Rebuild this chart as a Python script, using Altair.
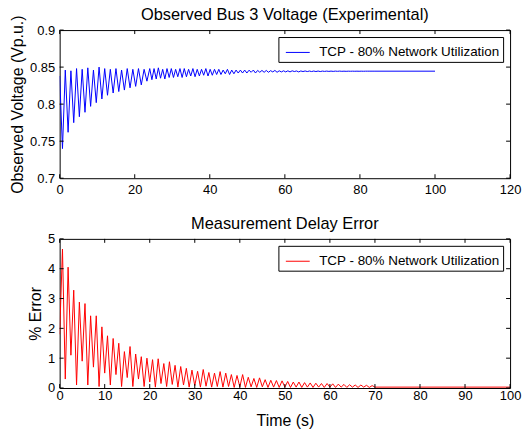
import altair as alt
import pandas as pd

LABEL = "TCP - 80% Network Utilization"

# ---- Observed Bus 3 Voltage ----
volt_period_a = 1.5
volt_peaks_a = [0.838, 0.846, 0.845, 0.848, 0.847, 0.849, 0.846, 0.850,
                0.848, 0.847, 0.848, 0.846, 0.848, 0.847, 0.848, 0.847]
volt_troughs_a = [0.740, 0.762, 0.775, 0.783, 0.789, 0.797, 0.802, 0.807,
                  0.812, 0.815, 0.817, 0.819, 0.822, 0.824, 0.826, 0.831]
volt_start_b = 24.0
volt_period_b = 1.15
volt_peaks_b = [0.848, 0.848, 0.849, 0.847, 0.848, 0.848, 0.847, 0.848, 0.848, 0.847,
                0.848, 0.847, 0.847, 0.848, 0.847, 0.847, 0.847, 0.846, 0.847, 0.846,
                0.846, 0.846, 0.846, 0.8458, 0.846, 0.8455, 0.8455, 0.8455, 0.8452, 0.8455,
                0.845, 0.845, 0.845, 0.845, 0.8448, 0.8448, 0.8448, 0.8447, 0.8447, 0.8447,
                0.8446, 0.8446, 0.8446, 0.8446, 0.8446, 0.8445, 0.8445, 0.8445, 0.8445, 0.8445,
                0.8445, 0.8445]
volt_troughs_b = [0.833, 0.834, 0.835, 0.834, 0.836, 0.836, 0.837, 0.836, 0.837, 0.838,
                  0.837, 0.838, 0.839, 0.838, 0.839, 0.840, 0.840, 0.841, 0.840, 0.841,
                  0.842, 0.842, 0.842, 0.843, 0.842, 0.843, 0.843, 0.843, 0.8435, 0.843,
                  0.8435, 0.8435, 0.8435, 0.844, 0.8435, 0.844, 0.844, 0.844, 0.844, 0.844,
                  0.8442, 0.8442, 0.8442, 0.8443, 0.8443, 0.8443, 0.8444, 0.8444, 0.8444, 0.8444,
                  0.8445, 0.8445]
volt_tail_t = [84.0, 100.0]
volt_tail_v = [0.8445, 0.8445]

err_period = 1.25
err_troughs = [1.8, 0.3, 1.1, 0.1, 0.9, 0.1, 0.7, 0.05, 0.5, 0.1,
               0.45, 0.05, 0.35, 0.05, 0.3, 0.05, 0.2, 0.03, 0.15, 0.05,
               0.12, 0.03, 0.1, 0.03, 0.08, 0.03, 0.06, 0.03, 0.05, 0.03,
               0.05, 0.02, 0.04, 0.02, 0.04, 0.02, 0.04, 0.02, 0.03, 0.02,
               0.03, 0.02, 0.03, 0.02, 0.03, 0.02, 0.03, 0.02, 0.03, 0.02,
               0.03, 0.02, 0.03, 0.02, 0.03, 0.02]
err_peaks = [4.66, 4.05, 3.28, 2.88, 2.83, 2.42, 2.42, 2.05, 1.75, 1.66,
             1.50, 1.22, 1.39, 1.14, 1.05, 1.00, 0.95, 0.98, 0.82, 0.88,
             0.76, 0.72, 0.66, 0.60, 0.56, 0.62, 0.52, 0.50, 0.55, 0.50,
             0.45, 0.42, 0.45, 0.36, 0.32, 0.34, 0.28, 0.26, 0.25, 0.24,
             0.22, 0.20, 0.20, 0.18, 0.17, 0.16, 0.15, 0.15, 0.14, 0.13,
             0.12, 0.11, 0.10, 0.10, 0.09, 0.08]
err_tail_t = [70.0, 100.0]
err_tail_v = [0.03, 0.03]

# ---- ticks ----
top_x_ticks = [0, 20, 40, 60, 80, 100, 120]
top_y_ticks = [0.7, 0.75, 0.8, 0.85, 0.9]
bot_x_ticks = [0, 10, 20, 30, 40, 50, 60, 70, 80, 90, 100]
bot_y_ticks = [0, 1, 2, 3, 4, 5]

# ---- build tables ----
vt, vv = [], []
for k, (p, q) in enumerate(zip(volt_peaks_a, volt_troughs_a)):
    vt += [k * volt_period_a, k * volt_period_a + volt_period_a / 2]
    vv += [p, q]
for k, (p, q) in enumerate(zip(volt_peaks_b, volt_troughs_b)):
    vt += [volt_start_b + k * volt_period_b, volt_start_b + k * volt_period_b + volt_period_b / 2]
    vv += [p, q]
vt += volt_tail_t
vv += volt_tail_v
volt_df = pd.DataFrame({"t": vt, "v": vv, "series": LABEL})

et, ev = [], []
for k, (q, p) in enumerate(zip(err_troughs, err_peaks)):
    et += [k * err_period, k * err_period + err_period / 2]
    ev += [q, p]
et += err_tail_t
ev += err_tail_v
err_df = pd.DataFrame({"t": et, "v": ev, "series": LABEL})

W = 453
FONT = "Liberation Sans"
TL = 4  # inward tick length


def panel(df, xdom, ydom, xticks, yticks, color, title, ytitle, xtitle, h, xlabpad):
    xaxis = alt.Axis(values=xticks, ticks=False, domain=False, grid=False,
                     labelFontSize=13, labelPadding=xlabpad, labelColor="black",
                     titleFontSize=16, titleFontWeight="normal", titleColor="black",
                     titlePadding=10, format="~r", labelFlush=False, labelOverlap=False)
    yaxis = alt.Axis(values=yticks, ticks=False, domain=False, grid=False,
                     labelFontSize=13, labelPadding=5, labelColor="black",
                     titleFontSize=16, titleFontWeight="normal", titleColor="black",
                     titlePadding=4, format="~r", labelFlush=False, labelOverlap=False)
    xs = alt.Scale(domain=xdom, nice=False, zero=False)
    ys = alt.Scale(domain=ydom, nice=False, zero=False)
    xtitle_v = xtitle if xtitle else None
    xenc = alt.X("t:Q", scale=xs, axis=xaxis, title=xtitle_v)
    yenc = alt.Y("v:Q", scale=ys, axis=yaxis, title=ytitle)
    line = alt.Chart(df).mark_line(strokeWidth=1, clip=True).encode(
        x=xenc, y=yenc,
        color=alt.Color("series:N",
                        scale=alt.Scale(domain=[LABEL], range=[color]),
                        legend=alt.Legend(title=None, orient="top-right", offset=7,
                                          strokeColor="black", fillColor="white",
                                          padding=3, symbolOffset=4, symbolType="stroke",
                                          symbolSize=576, symbolStrokeWidth=1,
                                          labelFontSize=13.5, labelOffset=9,
                                          labelLimit=400, labelColor="black")),
    )
    xt = pd.DataFrame({"t": xticks})
    yt = pd.DataFrame({"v": yticks})
    xr = alt.X("t:Q", scale=xs, axis=xaxis, title=xtitle_v)
    yr = alt.Y("v:Q", scale=ys, axis=yaxis, title=ytitle)
    rx_b = alt.Chart(xt).mark_rule(color="black", strokeWidth=1).encode(
        x=xr, y=alt.value(h - TL), y2=alt.value(h))
    rx_t = alt.Chart(xt).mark_rule(color="black", strokeWidth=1).encode(
        x=xr, y=alt.value(0), y2=alt.value(TL))
    ry_l = alt.Chart(yt).mark_rule(color="black", strokeWidth=1).encode(
        y=yr, x=alt.value(0), x2=alt.value(TL))
    ry_r = alt.Chart(yt).mark_rule(color="black", strokeWidth=1).encode(
        y=yr, x=alt.value(W - TL), x2=alt.value(W))
    ttl = alt.Chart(pd.DataFrame({"title": [title]})).mark_text(
        fontSize=16.5, baseline="alphabetic", align="center", color="black"
    ).encode(text="title:N", x=alt.value(W / 2), y=alt.value(-10))
    return alt.layer(line, rx_b, rx_t, ry_l, ry_r, ttl).properties(width=W, height=h)


top = panel(volt_df, [0, 120], [0.7, 0.9], top_x_ticks, top_y_ticks, "#0000ff",
            "Observed Bus 3 Voltage (Experimental)", "Observed Voltage (Vp.u.)", None, 149, 5)
bot = panel(err_df, [0, 100], [0, 5], bot_x_ticks, bot_y_ticks, "#ff0000",
            "Measurement Delay Error", "% Error", "Time (s)", 150, 2)

chart = alt.vconcat(top, bot, spacing=18).resolve_scale(
    color="independent", x="independent", y="independent"
).configure(
    font=FONT, padding={"left": 9, "top": 5, "right": 0, "bottom": 0}, background="white"
).configure_view(stroke="black", strokeWidth=1)

chart.save("out.html", embed_options={"renderer": "svg", "actions": False})
